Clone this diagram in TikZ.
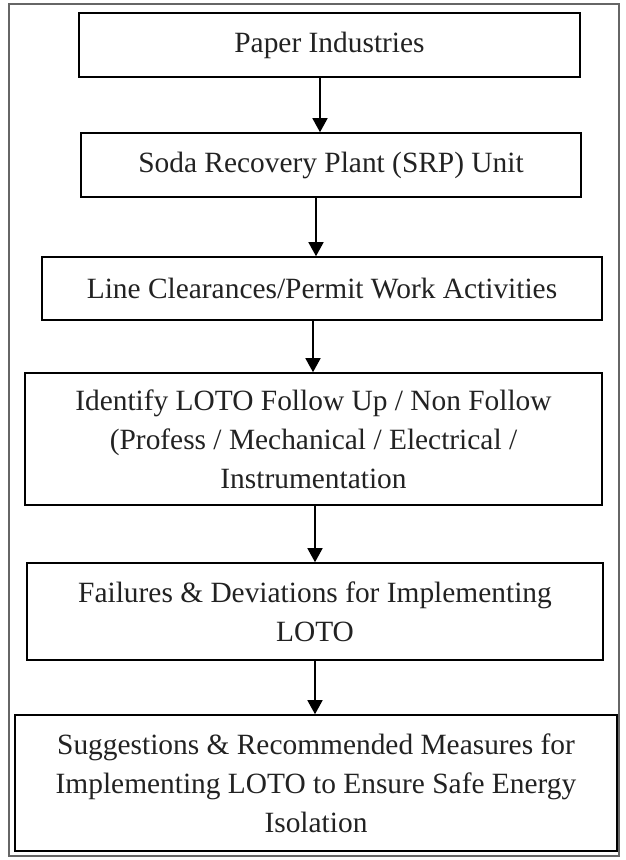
\documentclass[tikz,border=0pt]{standalone}
\usepackage{fontspec}
\setmainfont{Liberation Serif}
\usetikzlibrary{arrows.meta}
\definecolor{txt}{HTML}{222222}
\definecolor{frame}{HTML}{666666}
\tikzset{
  flowbox/.style={draw=black, line width=1.6pt, fill=white, inner sep=0pt, align=center,
    text=txt, font=\fontsize{29.4}{39}\selectfont},
  flowarrow/.style={draw=black, line width=1.6pt, -{Triangle[length=14pt, width=15pt]}}
}
\begin{document}
\begin{tikzpicture}[x=1pt, y=-1pt]
\useasboundingbox (0,0) rectangle (625,860);
\draw[frame, line width=1.3pt] (9,4) rectangle (619,856);

\node[flowbox, minimum width=501pt, minimum height=64pt] (b1) at (329.5,45) {Paper Industries};
\node[flowbox, minimum width=500pt, minimum height=64pt] (b2) at (331,165) {Soda Recovery Plant (SRP) Unit};
\node[flowbox, minimum width=560pt, minimum height=63pt] (b3) at (322,288.5) {Line Clearances/Permit Work Activities};
\node[flowbox, minimum width=577pt, minimum height=132pt] (b4) at (313.5,439) {Identify LOTO Follow Up / Non Follow\\(Profess / Mechanical / Electrical /\\Instrumentation};
\node[flowbox, minimum width=576pt, minimum height=97pt] (b5) at (315,611.5) {Failures \& Deviations for Implementing\\LOTO};
\node[flowbox, minimum width=602pt, minimum height=136pt] (b6) at (316,783) {Suggestions \& Recommended Measures for\\Implementing LOTO to Ensure Safe Energy\\Isolation};

\coordinate (x1) at (320,0);
\coordinate (x2) at (316,0);
\coordinate (x3) at (313,0);
\coordinate (x4) at (315,0);
\coordinate (x5) at (315,0);

\draw[flowarrow] (b1.south -| x1) -- (b2.north -| x1);
\draw[flowarrow] (b2.south -| x2) -- (b3.north -| x2);
\draw[flowarrow] (b3.south -| x3) -- (b4.north -| x3);
\draw[flowarrow] (b4.south -| x4) -- (b5.north -| x4);
\draw[flowarrow] (b5.south -| x5) -- (b6.north -| x5);
\end{tikzpicture}
\end{document}
